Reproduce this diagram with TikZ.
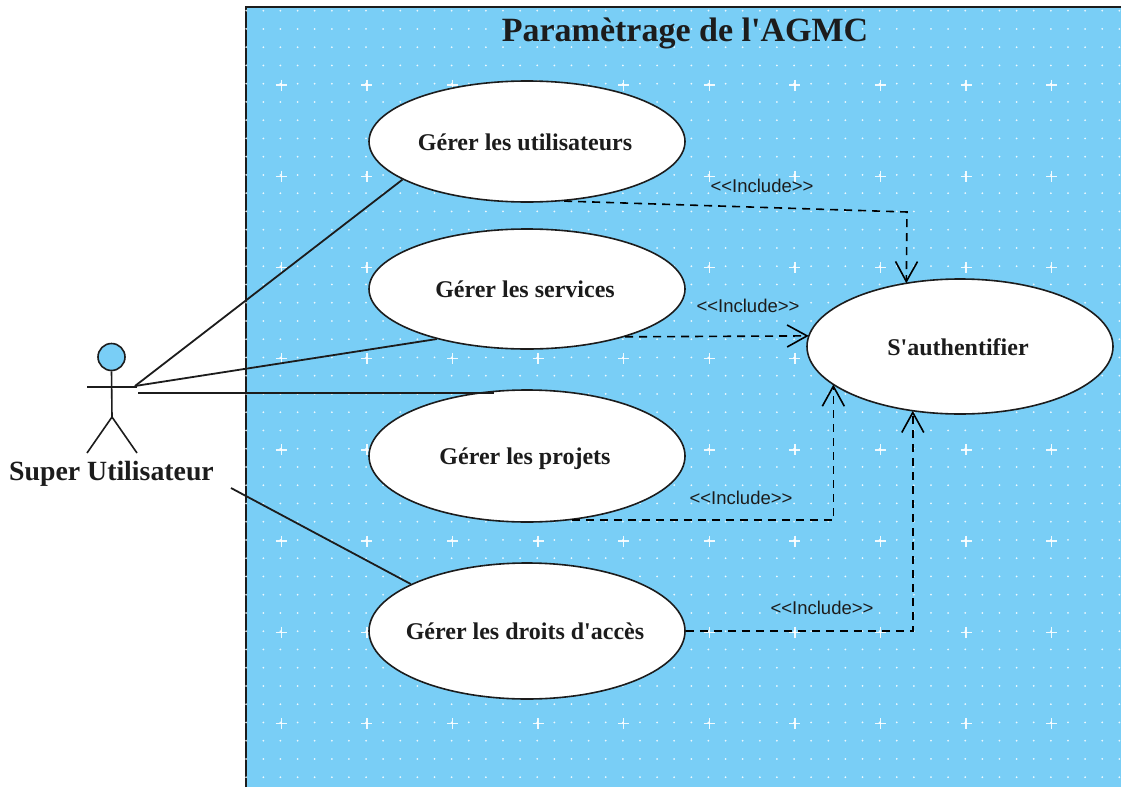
\documentclass[tikz,border=0pt]{standalone}
\usepackage{fontspec}
\setmainfont{Liberation Serif}
\newfontfamily\straightserif{Liberation Serif}
\newfontfamily\labelfont{Liberation Sans}
\usetikzlibrary{shapes.geometric,arrows.meta}
\definecolor{paneblue}{HTML}{79CEF6}
\definecolor{inkline}{HTML}{1C1C1C}
\pgfdeclarearrow{
  name=openvee,
  setup code={
    \pgfarrowssettipend{0pt}
    \pgfarrowssetlineend{-1pt}
    \pgfarrowssetvisualbackend{-1pt}
    \pgfarrowssetbackend{-21pt}
  },
  drawing code={
    \pgfsetdash{}{0pt}
    \pgfsetlinewidth{1.6pt}
    \pgfsetmiterjoin
    \pgfpathmoveto{\pgfqpoint{-21pt}{11pt}}
    \pgfpathlineto{\pgfqpoint{-1pt}{0pt}}
    \pgfpathlineto{\pgfqpoint{-21pt}{-11pt}}
    \pgfusepathqstroke
  }
}
\newcommand{\uclabel}[1]{\makebox[0pt]{\hspace*{-4pt}\raisebox{-8.5pt}[0pt][0pt]{#1}}}
\tikzset{
  usecase/.style={ellipse,draw=inkline,line width=1.6pt,fill=white,inner sep=0pt,font=\straightserif\bfseries\fontsize{24}{28}\selectfont,text=inkline},
  assoc/.style={draw=inkline,line width=1.8pt},
  incl/.style={draw=black,line width=1.6pt,dash pattern=on 8pt off 6pt,-openvee},
  inclabel/.style={font=\labelfont\fontsize{18.5}{22}\selectfont,text=inkline,inner sep=0pt},
  stick/.style={draw=inkline,line width=1.6pt},
  whitedot/.style={fill=white,opacity=.85,draw=none},
  plusmark/.style={draw=white,line width=1.4pt,opacity=.9}
}
\begin{document}
\begin{tikzpicture}[x=1pt,y=-1pt]
\useasboundingbox (0,0) rectangle (1121,787);
\fill[white] (0,0) rectangle (1121,787);
% pane
\fill[paneblue] (246,7) rectangle (1121,787);
\draw[inkline,line width=1.7pt] (246,787) -- (246,7) -- (1121,7);
% grid dots
\foreach \i in {0,...,51}{\foreach \j in {0,...,42}{
  \fill[whitedot] ({246.2+17.12*\i},{10.7+18.25*\j}) circle (1pt);
}}
\foreach \i in {0,...,10}{\foreach \j in {0,...,7}{
  \draw[plusmark] ({281.2+85.6*\i-5.5},{85+91.2*\j}) -- ++(11,0);
  \draw[plusmark] ({281.2+85.6*\i},{85+91.2*\j-5.5}) -- ++(0,11);
}}
% title
\node[font=\straightserif\bfseries\fontsize{34}{38}\selectfont,text=inkline,inner sep=0pt] (title) at (685,33) {Paramètrage de l'AGMC};
% use cases
\node[usecase,minimum width=316pt,minimum height=121pt] (uc1) at (527,141.5) {\uclabel{Gérer les utilisateurs}};
\node[usecase,minimum width=316pt,minimum height=120pt] (uc2) at (527,289) {\uclabel{Gérer les services}};
\node[usecase,minimum width=316pt,minimum height=132pt] (uc3) at (527,456) {\uclabel{Gérer les projets}};
\node[usecase,minimum width=316pt,minimum height=136pt] (uc4) at (527,631) {\uclabel{Gérer les droits d'accès}};
\node[usecase,minimum width=306pt,minimum height=135pt] (auth) at (960,346.5) {\uclabel{S'authentifier}};
% actor
\node[circle,draw=inkline,fill=paneblue,line width=1.6pt,minimum size=27pt,inner sep=0pt] (head) at (111.5,357) {};
\coordinate (hip) at (112,417);
\coordinate (lefthand) at (87,387);
\coordinate (righthand) at (137,387);
\coordinate (leftfoot) at (87,453);
\coordinate (rightfoot) at (137,453);
\draw[stick] (head.south) -- (hip);
\draw[stick] (lefthand) -- (righthand);
\draw[stick] (leftfoot) -- (hip) -- (rightfoot);
\node[font=\straightserif\bfseries\fontsize{27.8}{32}\selectfont,text=inkline,inner sep=0pt] (actor) at (111.5,474) {Super Utilisateur};
% associations
\coordinate (a1) at (135,386);
\coordinate (a3) at (138,393);
\coordinate (a4) at (231,488);
\draw[assoc] (a1) -- (uc1.197);
\draw[assoc] (a1) -- (uc2.209);
\draw[assoc] (a3) -- (a3 -| uc3.117);
\draw[assoc] (a4) -- (uc4.158);
% includes
\coordinate (bend) at (907,212);
\draw[incl] (uc1.302) -- (bend) -- (auth.130);
\draw[incl] (uc2.334) -- (auth.176);
\draw[incl] (uc3.305) -| (auth.197);
\draw[incl] (uc4.east) -| (auth.234);
\node[inclabel] (l1) at (762,186) {<<Include>>};
\node[inclabel] (l2) at (748,306) {<<Include>>};
\node[inclabel] (l3) at (741,498) {<<Include>>};
\node[inclabel] (l4) at (822,608) {<<Include>>};
\end{tikzpicture}
\end{document}
